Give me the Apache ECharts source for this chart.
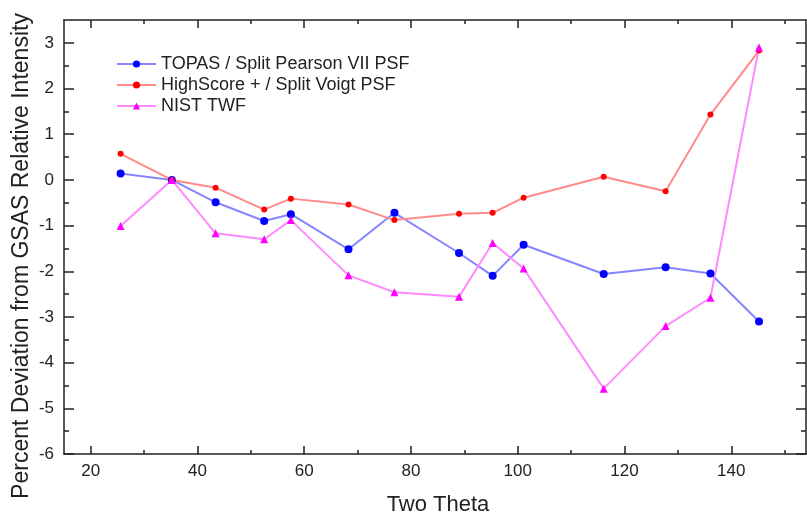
<!DOCTYPE html>
<html>
<head>
<meta charset="utf-8">
<script src="https://cdn.jsdelivr.net/npm/echarts@6/dist/echarts.min.js"></script>
<style>
html,body{margin:0;padding:0;background:#fff;}
#chart{width:807px;height:521px;}
</style>
</head>
<body>
<div id="chart"></div>
<script>
// Data
var twoTheta = [25.6, 35.2, 43.4, 52.5, 57.5, 68.3, 76.9, 89.0, 95.3, 101.1, 116.1, 127.7, 136.1, 145.2];
var topas = [0.14, 0.0, -0.49, -0.90, -0.75, -1.52, -0.72, -1.60, -2.10, -1.42, -2.06, -1.91, -2.05, -3.10];
var highscore = [0.57, 0.0, -0.17, -0.65, -0.41, -0.54, -0.88, -0.74, -0.72, -0.39, 0.07, -0.25, 1.43, 2.83];
var nist = [-1.01, 0.0, -1.17, -1.30, -0.88, -2.09, -2.46, -2.56, -1.38, -1.94, -4.57, -3.20, -2.58, 2.90];
var seriesNames = ['TOPAS / Split Pearson VII PSF', 'HighScore + / Split Voigt PSF', 'NIST TWF'];
var xMajorTicks = [20, 40, 60, 80, 100, 120, 140];
var xMinorTicks = [30, 50, 70, 90, 110, 130, 150];
var yMajorTicks = [-6, -5, -4, -3, -2, -1, 0, 1, 2, 3];
var yMinorTicks = [-5.5, -4.5, -3.5, -2.5, -1.5, -0.5, 0.5, 1.5, 2.5];
var xTitle = 'Two Theta';
var yTitle = 'Percent Deviation from GSAS Relative Intensity';

function pairs(xs, ys) { return xs.map(function (x, i) { return [x, ys[i]]; }); }

var FONT = 'Liberation Sans, Arial, sans-serif';
var AX = '#222';
var X_MIN = 15, X_MAX = 154, Y_MIN = -6, Y_MAX = 3.5;

function xAx(pos, ticks, len, main) {
  return {
    type: 'value', position: pos, min: X_MIN, max: X_MAX,
    axisLine: { show: main, onZero: false, lineStyle: { color: AX, width: 1.5 } },
    axisTick: { show: true, inside: true, length: len, customValues: ticks, lineStyle: { color: AX, width: 1.5 } },
    axisLabel: (main && pos === 'bottom') ? { show: true, customValues: xMajorTicks, margin: 9, fontSize: 17, color: '#222', fontFamily: FONT } : { show: false },
    splitLine: { show: false },
    name: (main && pos === 'bottom') ? xTitle : '',
    nameLocation: 'middle', nameGap: 40,
    nameTextStyle: { fontSize: 22, color: '#222', fontFamily: FONT, padding: [0, 0, 0, 6] }
  };
}
function yAx(pos, ticks, len, main) {
  return {
    type: 'value', position: pos, min: Y_MIN, max: Y_MAX,
    axisLine: { show: main, onZero: false, lineStyle: { color: AX, width: 1.5 } },
    axisTick: { show: true, inside: true, length: len, customValues: ticks, lineStyle: { color: AX, width: 1.5 } },
    axisLabel: (main && pos === 'left') ? { show: true, customValues: yMajorTicks, margin: 10, fontSize: 17, color: '#222', fontFamily: FONT } : { show: false },
    splitLine: { show: false }
  };
}

var chart = echarts.init(document.getElementById('chart'), null, { renderer: 'canvas' });
chart.setOption({
  animation: false,
  backgroundColor: '#fff',
  grid: { left: 64, top: 20, right: 1, bottom: 59, containLabel: false },
  legend: {
    orient: 'vertical', left: 111, top: 50,
    itemWidth: 39, itemHeight: 9, itemGap: 3,
    textStyle: { fontSize: 18, color: '#222', fontFamily: FONT, lineHeight: 18 },
    data: seriesNames
  },
  graphic: [{
    type: 'text', x: 22, y: 256, rotation: Math.PI / 2,
    style: { text: yTitle, fontSize: 23, fill: '#222', fontFamily: FONT, align: 'center', verticalAlign: 'middle' }
  }],
  xAxis: [
    xAx('bottom', xMajorTicks, 8, true),
    xAx('bottom', xMinorTicks, 4, false),
    xAx('top', xMajorTicks, 8, true),
    xAx('top', xMinorTicks, 4, false)
  ],
  yAxis: [
    yAx('left', yMajorTicks, 10, true),
    yAx('left', yMinorTicks, 5, false),
    yAx('right', yMajorTicks, 10, true),
    yAx('right', yMinorTicks, 5, false)
  ],
  series: [
    {
      name: seriesNames[0], type: 'line', xAxisIndex: 0, yAxisIndex: 0,
      data: pairs(twoTheta, topas),
      symbol: 'circle', symbolSize: 8,
      lineStyle: { color: '#8585ff', width: 2 },
      itemStyle: { color: '#0000ff' }
    },
    {
      name: seriesNames[1], type: 'line', xAxisIndex: 0, yAxisIndex: 0,
      data: pairs(twoTheta, highscore),
      symbol: 'circle', symbolSize: 6,
      lineStyle: { color: '#ff8a8a', width: 2 },
      itemStyle: { color: '#ff0000' }
    },
    {
      name: seriesNames[2], type: 'line', xAxisIndex: 0, yAxisIndex: 0,
      data: pairs(twoTheta, nist),
      symbol: 'triangle', symbolSize: 8,
      lineStyle: { color: '#ff8aff', width: 2 },
      itemStyle: { color: '#ff00ff' }
    }
  ]
});
</script>
</body>
</html>
